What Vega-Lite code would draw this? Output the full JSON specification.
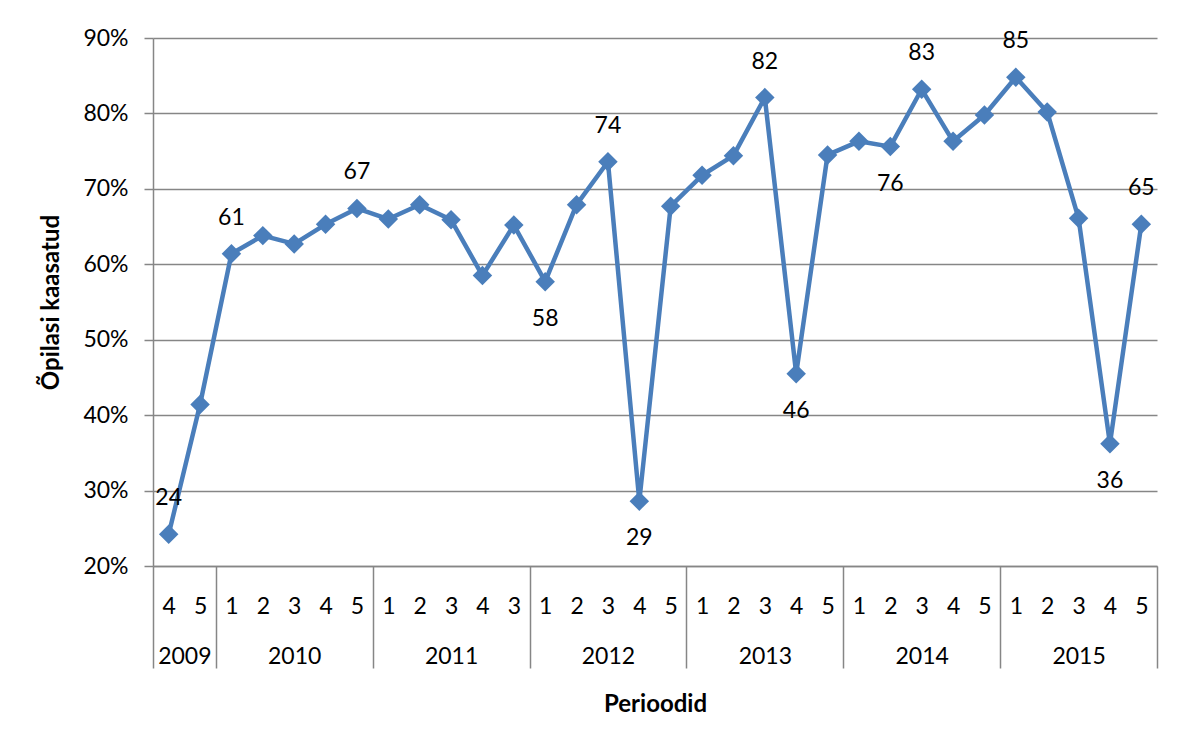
{
  "$schema": "https://vega.github.io/schema/vega-lite/v6.json",
  "autosize": {"type": "none"},
  "padding": {"left": 153, "top": 38, "right": 22, "bottom": 168},
  "width": 1004,
  "height": 528,
  "background": "white",
  "config": {
    "view": {"stroke": null},
    "font": "Lato",
    "axis": {"labelFont": "Lato", "titleFont": "Lato", "labelColor": "#000000", "titleColor": "#000000"}
  },
  "data": {"values": [
    {"i": 0, "year": "2009", "p": "4", "v": 0.242, "lbl": "24"},
    {"i": 1, "year": "2009", "p": "5", "v": 0.414, "lbl": ""},
    {"i": 2, "year": "2010", "p": "1", "v": 0.614, "lbl": "61"},
    {"i": 3, "year": "2010", "p": "2", "v": 0.638, "lbl": ""},
    {"i": 4, "year": "2010", "p": "3", "v": 0.627, "lbl": ""},
    {"i": 5, "year": "2010", "p": "4", "v": 0.653, "lbl": ""},
    {"i": 6, "year": "2010", "p": "5", "v": 0.674, "lbl": "67"},
    {"i": 7, "year": "2011", "p": "1", "v": 0.660, "lbl": ""},
    {"i": 8, "year": "2011", "p": "2", "v": 0.679, "lbl": ""},
    {"i": 9, "year": "2011", "p": "3", "v": 0.659, "lbl": ""},
    {"i": 10, "year": "2011", "p": "4", "v": 0.585, "lbl": ""},
    {"i": 11, "year": "2011", "p": "3", "v": 0.652, "lbl": ""},
    {"i": 12, "year": "2012", "p": "1", "v": 0.577, "lbl": "58"},
    {"i": 13, "year": "2012", "p": "2", "v": 0.679, "lbl": ""},
    {"i": 14, "year": "2012", "p": "3", "v": 0.736, "lbl": "74"},
    {"i": 15, "year": "2012", "p": "4", "v": 0.286, "lbl": "29"},
    {"i": 16, "year": "2012", "p": "5", "v": 0.677, "lbl": ""},
    {"i": 17, "year": "2013", "p": "1", "v": 0.718, "lbl": ""},
    {"i": 18, "year": "2013", "p": "2", "v": 0.744, "lbl": ""},
    {"i": 19, "year": "2013", "p": "3", "v": 0.821, "lbl": "82"},
    {"i": 20, "year": "2013", "p": "4", "v": 0.455, "lbl": "46"},
    {"i": 21, "year": "2013", "p": "5", "v": 0.745, "lbl": ""},
    {"i": 22, "year": "2014", "p": "1", "v": 0.763, "lbl": ""},
    {"i": 23, "year": "2014", "p": "2", "v": 0.756, "lbl": "76"},
    {"i": 24, "year": "2014", "p": "3", "v": 0.832, "lbl": "83"},
    {"i": 25, "year": "2014", "p": "4", "v": 0.763, "lbl": ""},
    {"i": 26, "year": "2014", "p": "5", "v": 0.798, "lbl": ""},
    {"i": 27, "year": "2015", "p": "1", "v": 0.848, "lbl": "85"},
    {"i": 28, "year": "2015", "p": "2", "v": 0.802, "lbl": ""},
    {"i": 29, "year": "2015", "p": "3", "v": 0.661, "lbl": ""},
    {"i": 30, "year": "2015", "p": "4", "v": 0.362, "lbl": "36"},
    {"i": 31, "year": "2015", "p": "5", "v": 0.653, "lbl": "65"}
  ]},
  "resolve": {"axis": {"x": "independent"}},
  "layer": [
    {
      "mark": {"type": "line", "color": "#4a7ebb", "strokeWidth": 4.5, "strokeJoin": "round"},
      "encoding": {
        "x": {"field": "i", "type": "quantitative",
          "scale": {"domain": [-0.5, 31.5], "nice": false, "zero": false},
          "axis": {"orient": "bottom", "values": [0,1,2,3,4,5,6,7,8,9,10,11,12,13,14,15,16,17,18,19,20,21,22,23,24,25,26,27,28,29,30,31],
            "labelExpr": "['4','5','1','2','3','4','5','1','2','3','4','3','1','2','3','4','5','1','2','3','4','5','1','2','3','4','5','1','2','3','4','5'][datum.value]",
            "title": null, "grid": false, "ticks": false, "tickSize": 0, "domain": true, "domainColor": "#868686", "domainWidth": 1.5,
            "labelFontSize": 23, "labelPadding": 29, "labelOverlap": false, "labelFlush": false, "labelBound": false}},
        "y": {"field": "v", "type": "quantitative",
          "scale": {"domain": [0.2, 0.9], "nice": false, "zero": false},
          "axis": {"values": [0.2,0.3,0.4,0.5,0.6,0.7,0.8,0.9], "format": ".0%",
            "title": "Õpilasi kaasatud", "titleFontSize": 24, "titleFontWeight": "bold", "titlePadding": 19,
            "grid": true, "gridColor": "#868686", "gridWidth": 1.5,
            "domainColor": "#868686", "domainWidth": 1.5, "tickColor": "#868686", "tickWidth": 1.5, "tickSize": 9,
            "labelFontSize": 23, "labelPadding": 16}}
      }
    },
    {
      "mark": {"type": "point", "shape": "diamond", "filled": true, "opacity": 1, "color": "#4a7ebb", "size": 380},
      "encoding": {
        "x": {"field": "i", "type": "quantitative",
          "axis": {"orient": "bottom", "values": [-0.5, 1.5, 6.5, 11.5, 16.5, 21.5, 26.5, 31.5], "labels": false, "title": null, "grid": false, "domain": false,
            "ticks": true, "tickSize": 102, "tickColor": "#868686", "tickWidth": 1.5}},
        "y": {"field": "v", "type": "quantitative"}
      }
    },
    {
      "transform": [{"filter": {"field": "i", "oneOf": [0, 2, 6, 14, 19, 24, 27, 31]}}],
      "mark": {"type": "text", "fontSize": 23, "color": "#000000", "baseline": "middle", "dy": -36},
      "encoding": {
        "x": {"field": "i", "type": "quantitative",
          "axis": {"orient": "bottom", "values": [0.5, 4, 9, 14, 19, 24, 29],
            "labelExpr": "datum.value < 1 ? '2009' : '' + (2010 + (datum.value - 4) / 5)",
            "title": "Perioodid", "titleFontSize": 24, "titleFontWeight": "bold", "titlePadding": 24,
            "grid": false, "ticks": false, "tickSize": 0, "domain": false,
            "labelFontSize": 23, "labelPadding": 79, "labelOverlap": false, "labelFlush": false, "labelBound": false}},
        "y": {"field": "v", "type": "quantitative"},
        "text": {"field": "lbl"}
      }
    },
    {
      "transform": [{"filter": {"field": "i", "oneOf": [12, 15, 20, 23, 30]}}],
      "mark": {"type": "text", "fontSize": 23, "color": "#000000", "baseline": "middle", "dy": 37},
      "encoding": {
        "x": {"field": "i", "type": "quantitative", "axis": null},
        "y": {"field": "v", "type": "quantitative"},
        "text": {"field": "lbl"}
      }
    }
  ]
}
